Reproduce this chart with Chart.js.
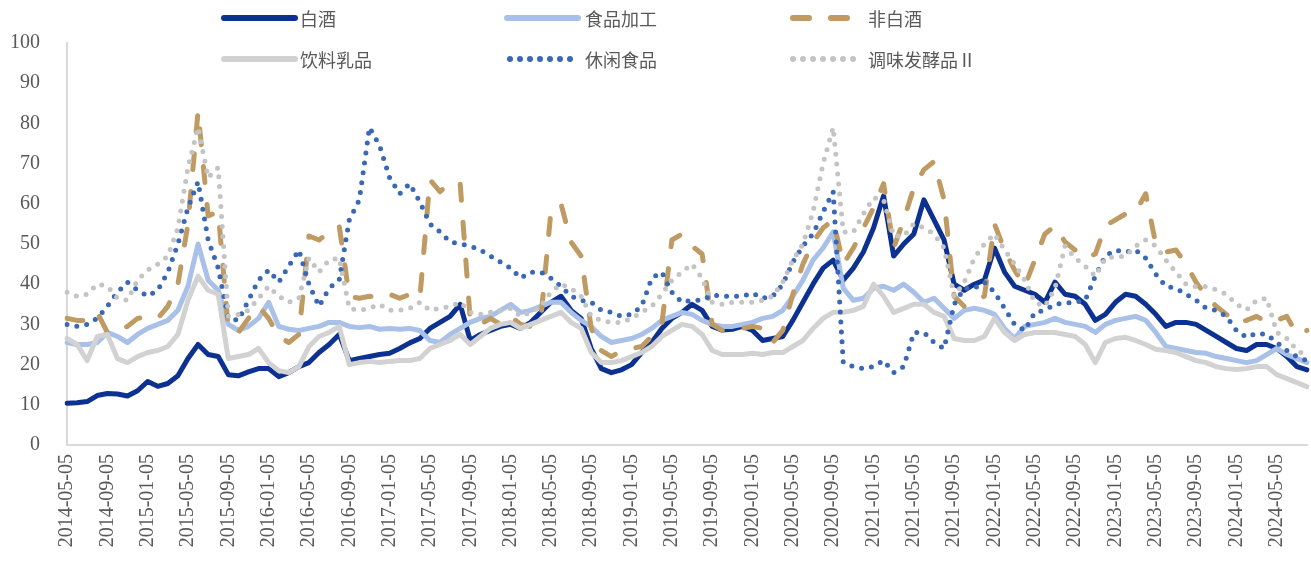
<!DOCTYPE html>
<html>
<head>
<meta charset="utf-8">
<script src="https://cdn.jsdelivr.net/npm/chart.js@4.4.1/dist/chart.umd.min.js"></script>
<style>
html,body{margin:0;padding:0;background:#ffffff;}
#wrap{width:1311px;height:563px;position:relative;}
</style>
</head>
<body>
<div id="wrap"><canvas id="c" width="1311" height="563"></canvas></div>
<script>
const categories = [
'2014-05-05','2014-06-05','2014-07-05','2014-08-05','2014-09-05','2014-10-05','2014-11-05','2014-12-05',
'2015-01-05','2015-02-05','2015-03-05','2015-04-05','2015-05-05','2015-06-05','2015-07-05','2015-08-05','2015-09-05','2015-10-05','2015-11-05','2015-12-05',
'2016-01-05','2016-02-05','2016-03-05','2016-04-05','2016-05-05','2016-06-05','2016-07-05','2016-08-05','2016-09-05','2016-10-05','2016-11-05','2016-12-05',
'2017-01-05','2017-02-05','2017-03-05','2017-04-05','2017-05-05','2017-06-05','2017-07-05','2017-08-05','2017-09-05','2017-10-05','2017-11-05','2017-12-05',
'2018-01-05','2018-02-05','2018-03-05','2018-04-05','2018-05-05','2018-06-05','2018-07-05','2018-08-05','2018-09-05','2018-10-05','2018-11-05','2018-12-05',
'2019-01-05','2019-02-05','2019-03-05','2019-04-05','2019-05-05','2019-06-05','2019-07-05','2019-08-05','2019-09-05','2019-10-05','2019-11-05','2019-12-05',
'2020-01-05','2020-02-05','2020-03-05','2020-04-05','2020-05-05','2020-06-05','2020-07-05','2020-08-05','2020-09-05','2020-10-05','2020-11-05','2020-12-05',
'2021-01-05','2021-02-05','2021-03-05','2021-04-05','2021-05-05','2021-06-05','2021-07-05','2021-08-05','2021-09-05','2021-10-05','2021-11-05','2021-12-05',
'2022-01-05','2022-02-05','2022-03-05','2022-04-05','2022-05-05','2022-06-05','2022-07-05','2022-08-05','2022-09-05','2022-10-05','2022-11-05','2022-12-05',
'2023-01-05','2023-02-05','2023-03-05','2023-04-05','2023-05-05','2023-06-05','2023-07-05','2023-08-05','2023-09-05','2023-10-05','2023-11-05','2023-12-05',
'2024-01-05','2024-02-05','2024-03-05','2024-04-05','2024-05-05','2024-06-05','2024-07-05','2024-08-05'
];

const seriesNames = ['白酒','食品加工','非白酒','饮料乳品','休闲食品','调味发酵品Ⅱ'];

const baijiu = [
10.4,10.5,10.8,12.3,12.8,12.7,12.2,13.5,15.8,14.6,
15.3,17.2,21.5,25.0,22.5,22.0,17.5,17.2,18.2,19.0,
19.0,17.0,18.0,19.5,20.5,23.0,25.0,27.5,21.0,21.5,
22.0,22.5,22.8,24.0,25.4,26.5,29.0,30.5,32.0,35.0,
26.0,27.5,28.5,29.5,30.0,29.0,30.5,33.0,35.5,37.0,
33.5,31.5,24.0,19.0,18.0,18.7,20.0,23.0,25.5,29.0,
31.5,33.0,35.0,33.5,29.5,28.6,28.8,29.5,28.5,26.0,
26.5,27.0,31.0,35.5,40.0,44.0,46.0,41.0,44.0,48.0,
54.0,62.0,47.0,50.0,52.5,61.0,56.0,51.0,40.0,38.5,
40.0,41.0,49.0,43.0,39.5,38.5,37.5,35.5,40.5,37.5,
37.0,35.0,31.0,32.5,35.5,37.5,37.0,35.0,32.5,29.5,
30.5,30.5,30.0,28.5,27.0,25.5,24.0,23.5,25.0,25.0,
24.0,22.0,19.5,18.7
];

const shipinJiagong = [
25.5,25.0,25.0,25.5,28.0,27.0,25.5,27.5,29.0,30.0,
31.0,33.5,39.5,50.0,41.0,38.5,30.0,28.5,29.5,31.5,
35.5,29.5,28.8,28.5,29.0,29.5,30.5,30.5,29.5,29.2,
29.5,28.8,29.0,28.8,29.0,28.5,26.0,25.5,27.5,29.0,
30.5,31.5,32.0,33.5,35.0,33.0,33.5,34.5,35.5,35.5,
33.0,31.0,29.5,27.0,25.5,26.0,26.5,27.5,29.0,31.0,
32.0,33.0,32.5,31.0,30.0,29.5,29.5,30.0,30.5,31.5,
32.0,33.5,37.0,41.0,46.0,49.0,53.0,39.0,36.0,36.5,
39.0,39.5,38.5,40.0,38.0,35.5,36.5,34.0,31.5,33.5,
34.0,33.5,32.5,29.0,26.5,29.5,30.0,30.5,31.5,30.5,
30.0,29.5,28.0,30.0,31.0,31.5,32.0,31.0,28.0,24.5,
24.0,23.5,23.0,22.8,22.0,21.5,21.0,20.5,21.0,22.5,
24.0,22.5,21.5,20.5
];

const feiBaijiu = [
31.5,31.0,31.0,33.0,28.0,28.5,29.5,31.5,32.0,31.5,
34.5,40.0,55.0,83.0,57.0,58.0,29.0,28.0,31.5,34.5,
31.5,27.0,25.5,27.5,52.0,51.0,53.0,54.5,37.0,36.5,
37.0,36.5,37.5,36.5,37.5,36.5,66.0,63.0,65.5,65.0,
31.0,30.0,31.5,30.0,32.0,30.0,29.5,31.5,58.0,60.0,
50.5,47.0,29.0,23.5,22.0,23.5,24.0,24.5,27.0,30.0,
51.0,52.5,49.5,47.5,30.0,28.5,28.8,29.0,29.5,29.0,
25.5,28.5,37.5,45.0,50.5,54.0,56.0,45.0,49.0,54.0,
59.0,65.0,49.0,56.0,64.0,68.5,70.5,61.0,37.0,34.5,
36.0,37.0,55.0,48.5,43.5,39.5,46.0,52.5,54.5,50.5,
48.5,46.5,47.5,54.5,56.0,57.5,58.0,62.5,50.0,48.0,
48.5,45.0,40.5,37.0,34.5,32.5,30.3,31.0,32.0,30.5,
31.0,32.0,27.5,28.5
];

const yinliaoRupin = [
26.5,25.0,21.0,27.0,27.5,21.5,20.5,22.0,23.0,23.5,
24.5,27.5,36.0,42.0,38.5,37.5,21.5,22.0,22.5,24.0,
20.5,18.5,18.0,19.5,24.5,27.0,28.0,29.5,20.0,20.5,
20.8,20.5,20.8,21.0,21.0,21.5,24.0,25.0,26.0,27.5,
25.0,27.0,29.0,30.0,30.5,29.0,30.0,31.0,32.0,33.0,
30.5,29.0,23.0,20.5,20.5,21.0,22.0,23.0,24.5,27.0,
28.5,30.0,29.5,27.5,23.5,22.5,22.5,22.5,22.8,22.5,
23.0,23.0,24.5,26.0,29.0,31.5,33.0,33.0,33.5,34.5,
40.0,37.0,33.0,34.0,35.0,35.0,33.0,32.0,26.5,26.0,
26.0,27.0,31.5,28.0,26.0,27.5,28.0,28.0,28.0,27.5,
27.0,25.0,20.5,25.5,26.5,26.8,26.0,25.0,23.8,23.5,
23.0,22.0,21.0,20.5,19.5,19.0,18.8,19.0,19.5,19.5,
17.5,16.5,15.5,14.5
];

const xiuxianShipin = [
30.0,29.5,30.0,31.5,34.5,38.0,40.5,38.5,37.0,38.5,
43.0,50.0,59.0,65.5,51.0,44.0,31.5,31.0,36.0,41.0,
43.5,40.5,44.5,48.5,40.0,34.5,39.0,41.0,56.0,61.0,
79.0,74.5,66.5,62.5,65.0,60.5,55.0,53.0,50.5,50.0,
49.5,48.5,47.0,45.5,44.0,41.5,43.0,43.0,41.5,39.5,
37.0,36.0,35.5,33.5,33.0,32.0,32.5,34.5,41.5,43.0,
38.0,35.5,36.0,36.0,37.3,37.0,37.0,37.0,37.8,36.5,
37.0,40.0,45.5,49.5,52.5,58.0,63.0,20.5,19.5,19.0,
19.5,21.0,18.0,19.5,28.0,28.0,25.5,24.0,35.0,39.0,
39.0,40.5,38.0,34.0,30.0,28.5,33.0,33.5,35.0,35.3,
35.5,36.0,42.0,47.0,48.5,48.0,48.5,46.5,42.5,39.5,
39.0,37.5,36.0,34.0,33.5,32.0,28.5,26.8,27.8,27.5,
25.5,23.5,22.0,21.0
];

const tiaoweiFajiao = [
38.0,37.0,37.5,40.0,39.5,36.5,36.0,41.0,43.5,45.0,
47.0,54.0,69.0,79.0,66.5,69.0,32.0,32.5,33.5,36.5,
39.5,37.0,35.5,36.5,46.5,43.0,46.0,46.5,34.0,33.5,
34.0,35.0,33.5,33.5,34.0,35.5,33.5,34.0,34.5,35.5,
33.0,32.5,33.0,33.5,34.0,32.0,33.0,34.5,38.0,40.0,
39.0,37.0,32.0,31.0,30.5,30.5,31.5,33.0,34.5,37.5,
41.0,43.0,45.0,41.5,35.5,35.0,35.5,35.5,35.5,36.0,
37.0,40.5,46.0,50.0,58.0,70.0,79.0,53.0,53.0,57.5,
61.5,61.0,52.0,52.0,55.0,54.0,52.5,49.0,37.0,40.5,
46.5,50.0,52.5,48.5,45.0,41.0,35.5,34.5,39.0,49.5,
46.5,44.5,42.0,46.5,46.8,47.0,49.5,51.0,49.5,46.0,
43.0,40.0,39.4,39.4,38.6,37.5,35.0,33.6,36.0,36.5,
28.0,26.5,23.6,22.0
];

const yTickMin = 0, yTickMax = 100, yTickStep = 10;

const seriesValues = [baijiu, shipinJiagong, feiBaijiu, yinliaoRupin, xiuxianShipin, tiaoweiFajiao];
const seriesStyles = [
  {color:'#0c3190', dash:[],      width:5, order:6},
  {color:'#a9c0e8', dash:[],      width:5, order:5},
  {color:'#bf9b63', dash:[16,22], width:5, order:4},
  {color:'#d2d2d2', dash:[],      width:5, order:3},
  {color:'#3a68b5', dash:[0,10],  width:5, order:2},
  {color:'#c4c4c4', dash:[0,10],  width:5, order:1}
];

const datasets = seriesNames.map((name, i) => ({
  label: name,
  data: seriesValues[i],
  borderColor: seriesStyles[i].color,
  backgroundColor: seriesStyles[i].color,
  borderWidth: seriesStyles[i].width,
  borderDash: seriesStyles[i].dash,
  borderCapStyle: 'round',
  borderJoinStyle: 'round',
  pointRadius: 0,
  tension: 0,
  fill: false,
  order: seriesStyles[i].order
}));

const legendLayout = [
  {x1:224, x2:295, y:18, tx:300},
  {x1:507, x2:578, y:18, tx:585},
  {x1:793, x2:849, y:18, tx:868},
  {x1:224, x2:295, y:59, tx:300},
  {x1:510, x2:576, y:59, tx:585},
  {x1:793, x2:859, y:59, tx:868}
];

const customLegend = {
  id: 'customLegend',
  afterDraw(chart) {
    const ctx = chart.ctx;
    ctx.save();
    chart.data.datasets.forEach((ds, i) => {
      const L = legendLayout[i];
      ctx.beginPath();
      ctx.strokeStyle = ds.borderColor;
      ctx.lineWidth = ds.borderWidth + 1;
      ctx.lineCap = 'round';
      ctx.setLineDash(ds.borderDash);
      ctx.moveTo(L.x1, L.y);
      ctx.lineTo(L.x2, L.y);
      ctx.stroke();
      ctx.setLineDash([]);
      ctx.fillStyle = '#595959';
      ctx.font = '18px "Noto Sans CJK SC"';
      ctx.textBaseline = 'middle';
      ctx.textAlign = 'left';
      ctx.fillText(ds.label, L.tx, L.y + 1);
    });
    ctx.restore();
  }
};

new Chart(document.getElementById('c'), {
  type: 'line',
  data: { labels: categories, datasets: datasets },
  options: {
    responsive: false,
    animation: false,
    devicePixelRatio: 1,
    layout: { padding: { top: 43, right: 4, bottom: 0, left: 0 } },
    plugins: { legend: { display: false }, tooltip: { enabled: false } },
    scales: {
      x: {
        type: 'category',
        offset: false,
        grid: { display: false, drawTicks: false },
        border: { display: true, color: '#d9d9d9', width: 2 },
        ticks: {
          autoSkip: false,
          maxRotation: 90,
          minRotation: 90,
          padding: 9,
          color: '#595959',
          font: { family: '"Liberation Serif"', size: 20 },
          callback: (v, i) => (i % 4 === 0 ? categories[i] : '')
        },
        afterFit: (s) => { s.height = 118; s.paddingLeft = 0; s.paddingRight = 0; }
      },
      y: {
        min: yTickMin,
        max: yTickMax,
        grid: { display: false, drawTicks: false },
        border: { display: true, color: '#d9d9d9', width: 2 },
        ticks: {
          stepSize: yTickStep,
          padding: 27,
          color: '#595959',
          font: { family: '"Liberation Serif"', size: 20 }
        },
        afterFit: (s) => { s.width = 67; s.paddingTop = 0; s.paddingBottom = 0; }
      }
    }
  },
  plugins: [customLegend]
});
</script>
</body>
</html>
